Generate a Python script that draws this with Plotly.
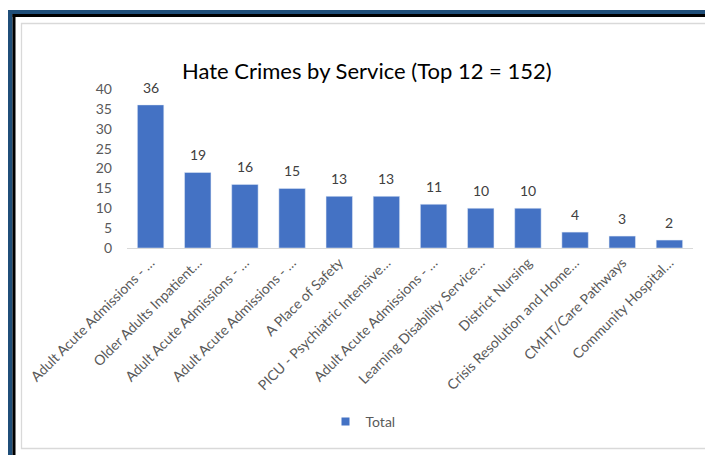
import plotly.graph_objects as go

categories = [
    "Adult Acute Admissions - …",
    "Older Adults Inpatient…",
    "Adult Acute Admissions - …",
    "Adult Acute Admissions - …",
    "A Place of Safety",
    "PICU - Psychiatric Intensive…",
    "Adult Acute Admissions - …",
    "Learning Disability Service…",
    "District Nursing",
    "Crisis Resolution and Home…",
    "CMHT/Care Pathways",
    "Community Hospital…",
]
totals = [36, 19, 16, 15, 13, 13, 11, 10, 10, 4, 3, 2]
y_ticks = [0, 5, 10, 15, 20, 25, 30, 35, 40]

# page has an 8px body margin; work in reference coords and shift by OFF
OFF = 8
W, H = 713 - OFF, 455 - OFF
L, R = 127 - OFF, 693 - OFF   # plot area left/right px
T, B = 89 - OFF, 248 - OFF    # plot area top/bottom px
FONT = "Lato, Carlito, Calibri, sans-serif"

def px(x):
    return (x - OFF - L) / (R - L)

def py(y):
    return (B - (y - OFF)) / (B - T)

positions = list(range(len(categories)))

fig = go.Figure()
fig.add_trace(go.Bar(
    x=positions, y=totals, name="Total",
    marker=dict(color="#4472C4"),
    width=0.56,
    showlegend=False,
))
# legend entry
fig.add_trace(go.Scatter(
    x=[None], y=[None], mode="markers", name="Total",
    marker=dict(symbol="square", size=8, color="#4472C4"),
    showlegend=True,
))

shapes = [
    # navy outer frame
    dict(type="rect", xref="paper", yref="paper", x0=px(8), x1=px(12.5), y0=py(460), y1=py(10),
         fillcolor="#1F4E79", line=dict(width=0), layer="below"),
    dict(type="rect", xref="paper", yref="paper", x0=px(8), x1=px(720), y0=py(14), y1=py(10),
         fillcolor="#1F4E79", line=dict(width=0), layer="below"),
    # black inner frame
    dict(type="rect", xref="paper", yref="paper", x0=px(12.5), x1=px(15.5), y0=py(460), y1=py(14),
         fillcolor="#000000", line=dict(width=0), layer="below"),
    dict(type="rect", xref="paper", yref="paper", x0=px(12.5), x1=px(720), y0=py(17), y1=py(14),
         fillcolor="#000000", line=dict(width=0), layer="below"),
    # light chart border
    dict(type="rect", xref="paper", yref="paper", x0=px(21.5), x1=px(710.5), y0=py(448.5), y1=py(23.5),
         fillcolor="rgba(0,0,0,0)", line=dict(width=1.3, color="#D9D9D9"), layer="below"),
]

annotations = [dict(text="Hate Crimes by Service (Top 12 = 152)", xref="paper", yref="paper",
                    x=px(367), y=py(70), xanchor="center", yanchor="middle", showarrow=False,
                    font=dict(size=22, color="#000000", family=FONT))]
for pos, val in zip(positions, totals):
    annotations.append(dict(x=pos, y=val, xref="x", yref="y", text=str(val), showarrow=False,
                            xanchor="center", yanchor="bottom", yshift=7,
                            font=dict(size=14, color="#404040", family=FONT)))

fig.update_layout(
    width=W, height=H,
    margin=dict(l=L, r=W - R, t=T, b=H - B, pad=0),
    paper_bgcolor="white", plot_bgcolor="white",
    font=dict(family=FONT, color="#595959"),
    shapes=shapes,
    bargap=0.44,
    showlegend=True,
    legend=dict(orientation="h", x=px(363), xanchor="center", y=py(422), yanchor="middle",
                itemwidth=30,
                font=dict(size=14, color="#595959", family=FONT)),
    annotations=annotations,
)
fig.update_xaxes(
    tickmode="array", tickvals=positions, ticktext=categories,
    range=[-0.5, len(categories) - 0.5],
    tickangle=-45, tickfont=dict(size=14, color="#595959", family=FONT),
    showline=True, linecolor="#D9D9D9", linewidth=1.3,
    showgrid=False, ticks="", zeroline=False,
)
fig.update_yaxes(
    range=[0, 40], tickmode="array", tickvals=y_ticks,
    tickfont=dict(size=14, color="#595959", family=FONT),
    showgrid=False, zeroline=False, showline=False, ticks="",
    ticklabelstandoff=14,
)

fig.write_html("out.html")
